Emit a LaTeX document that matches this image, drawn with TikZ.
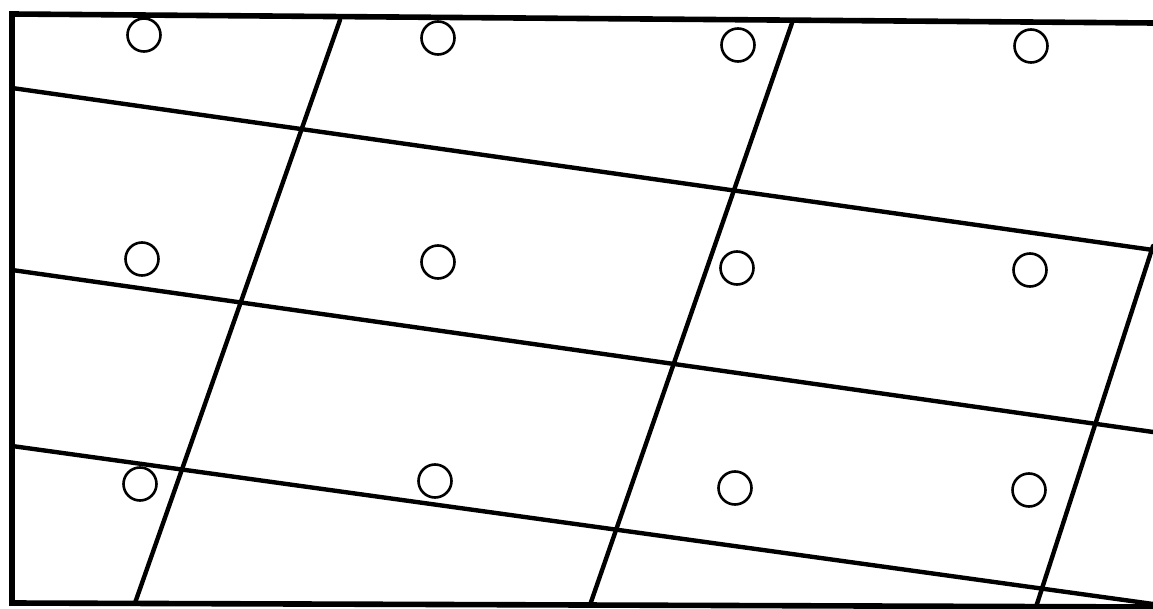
\documentclass[tikz,border=0pt]{standalone}
\begin{document}
\begin{tikzpicture}[x=0.5pt,y=-0.5pt,
  frame/.style={line width=2.8pt,line join=miter},
  gridline/.style={line width=2.2pt,line cap=round},
  hole/.style={circle,draw,line width=1.3pt,minimum size=16.5pt,inner sep=0pt}]
\useasboundingbox (0,0) rectangle (1153,609);
% frame (open at right)
\coordinate (ftr) at (1153,23);
\coordinate (ftl) at (12,14);
\coordinate (fbl) at (12,603);
\coordinate (fbr) at (1153,607);
\draw[frame] (ftr) -- (ftl) -- (fbl) -- (fbr);
% near-horizontal lines
\coordinate (h1a) at (12,88);   \coordinate (h1b) at (1153,250);
\coordinate (h2a) at (12,270);  \coordinate (h2b) at (1153,432);
\coordinate (h3a) at (12,446);  \coordinate (h3b) at (1153,604);
\draw[gridline] (h1a) -- (h1b);
\draw[gridline] (h2a) -- (h2b);
\draw[gridline] (h3a) -- (h3b);
% slanted lines
\coordinate (v1a) at (340,20);  \coordinate (v1b) at (135,603);
\coordinate (v2a) at (792,23);  \coordinate (v2b) at (590,605);
\coordinate (v3a) at (1153,246); \coordinate (v3b) at (1036,607);
\draw[gridline] (v1a) -- (v1b);
\draw[gridline] (v2a) -- (v2b);
\draw[gridline] (v3a) -- (v3b);
% holes
\node[hole] (c11) at (144,35) {};
\node[hole] (c12) at (438,38) {};
\node[hole] (c13) at (738,45) {};
\node[hole] (c14) at (1031,46) {};
\node[hole] (c21) at (142,259) {};
\node[hole] (c22) at (438,262) {};
\node[hole] (c23) at (737,268) {};
\node[hole] (c24) at (1030,270) {};
\node[hole] (c31) at (140,484) {};
\node[hole] (c32) at (435,481) {};
\node[hole] (c33) at (735,488) {};
\node[hole] (c34) at (1029,490) {};
\end{tikzpicture}
\end{document}
